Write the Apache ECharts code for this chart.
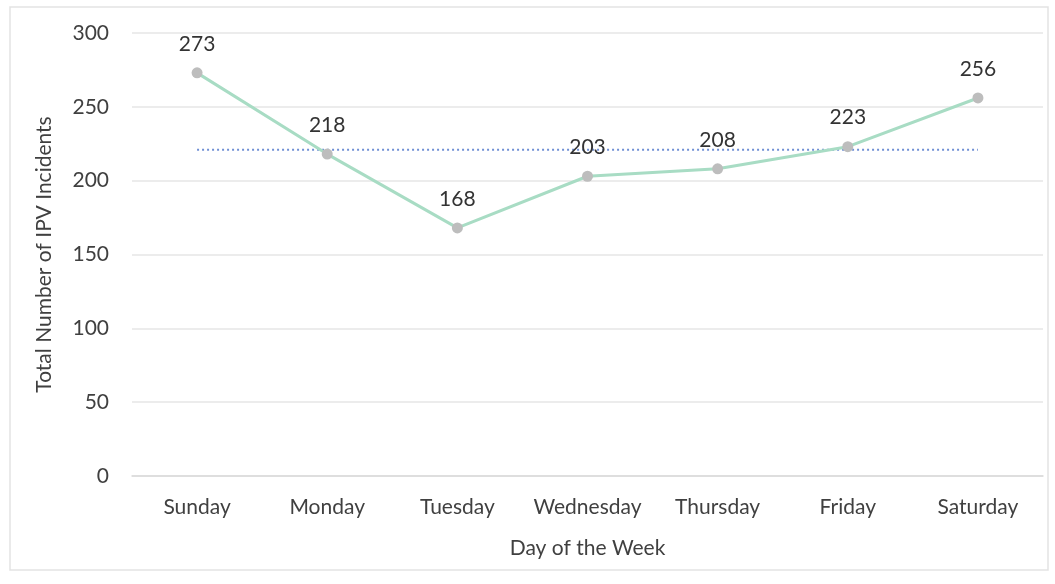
<!DOCTYPE html>
<html>
<head>
<meta charset="utf-8">
<script src="https://cdn.jsdelivr.net/npm/echarts@6/dist/echarts.min.js"></script>
<style>
  html, body { margin: 0; padding: 0; background: #fff; }
  #chart { width: 1055px; height: 584px; }
</style>
</head>
<body>
<div id="chart"></div>
<script>
// 数据
const days = ['Sunday', 'Monday', 'Tuesday', 'Wednesday', 'Thursday', 'Friday', 'Saturday'];
const incidents = [273, 218, 168, 203, 208, 223, 256];
const averageLine = [221, 221, 221, 221, 221, 221, 221];
const yTicks = [0, 50, 100, 150, 200, 250, 300];

const fontFamily = 'Lato, "Open Sans", sans-serif';
const chart = echarts.init(document.getElementById('chart'));

chart.setOption({
  animation: false,
  graphic: [{
    type: 'rect',
    shape: { x: 10, y: 7, width: 1038, height: 563 },
    style: { fill: 'none', stroke: '#e3e3e3', lineWidth: 1.5 },
    silent: true
  }],
  grid: {
    left: 132,
    right: 12,
    top: 33,
    bottom: 108
  },
  xAxis: {
    type: 'category',
    data: days,
    name: 'Day of the Week',
    nameLocation: 'middle',
    nameGap: 62,
    nameTextStyle: { color: '#404040', fontSize: 21, fontFamily: fontFamily },
    axisLine: { lineStyle: { color: '#d9d9d9', width: 1.5 } },
    axisTick: { show: false },
    axisLabel: { color: '#404040', fontSize: 21, margin: 21, interval: 0, fontFamily: fontFamily }
  },
  yAxis: {
    type: 'value',
    min: yTicks[0],
    max: yTicks[yTicks.length - 1],
    interval: 50,
    name: 'Total Number of IPV Incidents',
    nameLocation: 'middle',
    nameGap: 77,
    nameTextStyle: { color: '#404040', fontSize: 21, fontFamily: fontFamily },
    axisLine: { show: false },
    axisTick: { show: false },
    axisLabel: { color: '#404040', fontSize: 21, margin: 23, fontFamily: fontFamily },
    splitLine: { lineStyle: { color: '#e6e6e6', width: 1.5 } }
  },
  series: [
    {
      name: 'Average',
      type: 'line',
      data: averageLine,
      symbol: 'none',
      z: 1,
      lineStyle: { color: '#6f8fd4', width: 2, type: [2, 3] }
    },
    {
      name: 'Incidents',
      type: 'line',
      data: incidents,
      symbol: 'circle',
      symbolSize: 11,
      z: 2,
      itemStyle: { color: '#bdbdbd' },
      lineStyle: { color: '#a8dcc4', width: 3 },
      label: {
        show: true,
        position: 'top',
        distance: 13,
        color: '#333',
        fontSize: 21,
        fontFamily: fontFamily
      }
    }
  ]
});
</script>
</body>
</html>
